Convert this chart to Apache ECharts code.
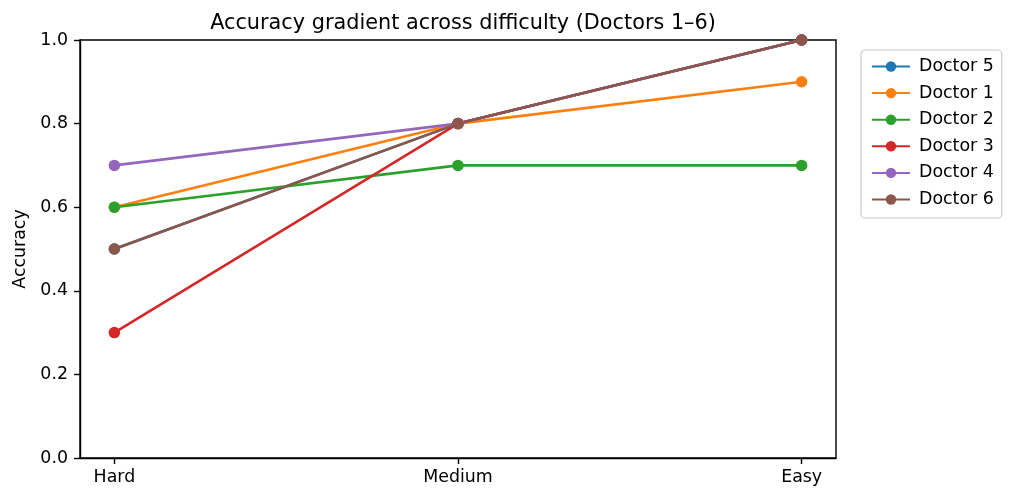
<!DOCTYPE html>
<html>
<head>
<meta charset="utf-8">
<script src="https://cdn.jsdelivr.net/npm/echarts@6/dist/echarts.min.js"></script>
<style>html,body{margin:0;padding:0;background:#fff;}#c{width:1014px;height:502px;}</style>
</head>
<body>
<div id="c"></div>
<script>
const categories = ["Hard", "Medium", "Easy"];
const seriesNames = ["Doctor 5", "Doctor 1", "Doctor 2", "Doctor 3", "Doctor 4", "Doctor 6"];
const doctor5 = [0.5, 0.8, 1.0];
const doctor1 = [0.6, 0.8, 0.9];
const doctor2 = [0.6, 0.7, 0.7];
const doctor3 = [0.3, 0.8, 1.0];
const doctor4 = [0.7, 0.8, 1.0];
const doctor6 = [0.5, 0.8, 1.0];
const colors = ["#1f77b4", "#ff7f0e", "#2ca02c", "#d62728", "#9467bd", "#8c564b"];
const values = [doctor5, doctor1, doctor2, doctor3, doctor4, doctor6];
const catIdx = categories.map((c, i) => i);

const font = "DejaVu Sans";
const chart = echarts.init(document.getElementById('c'), null, {renderer: 'canvas'});
chart.setOption({
  animation: false,
  textStyle: {fontFamily: font},
  title: {
    text: "Accuracy gradient across difficulty (Doctors 1\u20136)",
    left: 458, top: 8, textAlign: 'center',
    textStyle: {fontFamily: font, fontSize: 20.8, fontWeight: 'normal', color: '#000'}
  },
  grid: {left: 80, top: 40, width: 756, height: 418, show: true, borderColor: '#000', borderWidth: 1.4, containLabel: false, outerBoundsMode: 'none'},
  legend: {
    orient: 'vertical', left: 861, top: 50,
    data: seriesNames,
    itemWidth: 38, itemHeight: 13, itemGap: 7.6,
    padding: [7, 8, 9, 10],
    borderColor: '#ccc', borderWidth: 1.2, borderRadius: 4,
    textStyle: {fontFamily: font, fontSize: 17.4, color: '#000', lineHeight: 19, padding: [0, 0, 0, 4]}
  },
  xAxis: {
    type: 'value', min: -0.1, max: 2.1,
    splitLine: {show: false},
    axisLine: {show: true, onZero: false, lineStyle: {color: '#000', width: 1.4}},
    axisTick: {show: true, customValues: catIdx, length: 6, lineStyle: {color: '#000', width: 1.4}},
    axisLabel: {show: true, customValues: catIdx, formatter: v => categories[Math.round(v)], fontFamily: font, fontSize: 17.4, color: '#000', margin: 11}
  },
  yAxis: {
    type: 'value', min: 0, max: 1, interval: 0.2,
    name: 'Accuracy', nameLocation: 'middle', nameGap: 50,
    nameTextStyle: {fontFamily: font, fontSize: 17.4, color: '#000'},
    splitLine: {show: false},
    axisLine: {show: true, onZero: false, lineStyle: {color: '#000', width: 1.4}},
    axisTick: {show: true, length: 6, lineStyle: {color: '#000', width: 1.4}},
    axisLabel: {formatter: v => v.toFixed(1), fontFamily: font, fontSize: 17.4, color: '#000', margin: 12}
  },
  series: seriesNames.map((n, i) => ({
    name: n, type: 'line',
    data: values[i].map((v, j) => [catIdx[j], v]),
    symbol: 'circle', symbolSize: 11.5,
    showAllSymbol: true,
    lineStyle: {color: colors[i], width: 2.6},
    itemStyle: {color: colors[i]},
    emphasis: {disabled: true},
    clip: false
  }))
});
</script>
</body>
</html>
